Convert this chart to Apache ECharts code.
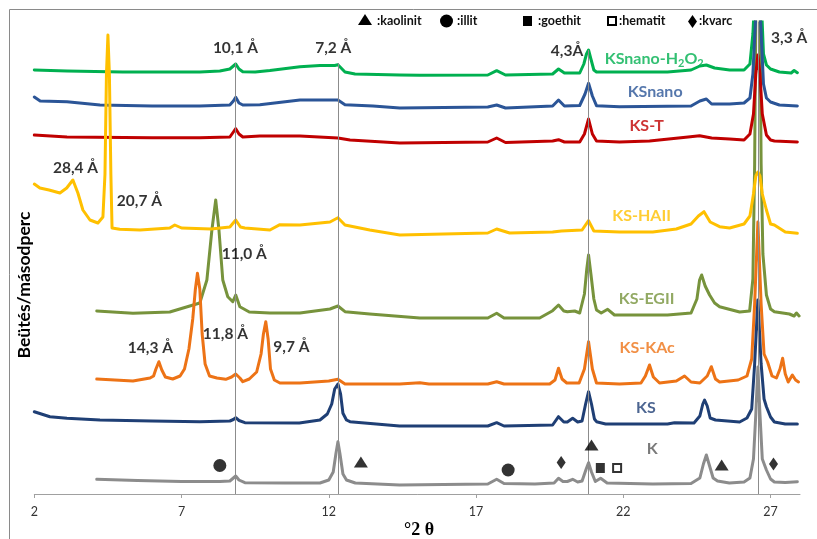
<!DOCTYPE html>
<html><head><meta charset="utf-8">
<script src="https://cdn.jsdelivr.net/npm/echarts@6/dist/echarts.min.js"></script>
<style>html,body{margin:0;padding:0;background:#fff}#c{width:817px;height:539px}</style>
</head><body><div id="c"></div>
<script>
// ---- data (x = °2θ, y = intensity in arbitrary stacked units) ----
const xTicks = [2, 7, 12, 17, 22, 27];

const K = [[4.12,14.7],[5.5,13.5],[7.0,12.5],[8.3,12.5],[8.64,13],[8.76,16],[8.84,18],[8.95,14],[9.15,11.3],[10.5,11],[11.7,11],[12.0,14],[12.15,22],[12.24,40],[12.31,52.3],[12.38,40],[12.48,20],[12.6,14],[12.9,11],[14.4,9],[17.4,10],[17.7,14.7],[17.95,10.5],[19.0,10],[19.65,11],[19.8,15.7],[19.95,12.5],[20.1,12.5],[20.28,14.7],[20.45,12],[20.6,13],[20.74,25],[20.82,31.3],[20.92,22],[21.05,12.5],[21.23,15.7],[21.45,11],[23.0,10],[24.3,10.5],[24.6,16],[24.72,30],[24.82,39],[24.93,28],[25.05,16],[25.2,13],[25.6,11],[26.1,12],[26.3,16],[26.42,35],[26.5,80],[26.57,127],[26.64,80],[26.72,35],[26.86,24],[27.0,15],[27.13,12],[27.5,11.5],[27.91,12.3]];

const KS = [[2.0,82.3],[2.53,77.3],[3.11,75.7],[4.23,74],[6.0,73],[7.62,72.3],[8.64,73],[8.76,74.5],[8.84,76.3],[8.95,73.5],[9.15,71.3],[11.0,71],[11.7,74],[11.95,80],[12.1,90],[12.2,105],[12.31,110],[12.4,100],[12.48,80.7],[12.6,74],[12.72,72.3],[14.4,68],[17.4,68],[17.7,71.3],[17.95,68],[19.6,69],[19.8,77.3],[19.98,72],[20.1,72],[20.28,75.7],[20.45,72],[20.6,73],[20.72,90],[20.82,102.3],[20.92,90],[21.02,75],[21.09,72.3],[21.4,70],[23.5,70],[23.74,71.3],[24.4,71],[24.6,78],[24.7,90],[24.76,94],[24.85,88],[24.95,76],[25.13,74],[25.95,72],[26.2,76],[26.36,85],[26.46,130],[26.57,194],[26.68,130],[26.78,95],[26.86,87.3],[27.0,77],[27.13,72],[27.5,70],[27.91,70]];

const KS_KAc = [[4.12,115],[5.35,113],[5.93,116],[6.05,118],[6.13,125],[6.23,132.3],[6.33,124],[6.45,117],[6.7,115],[6.95,118],[7.1,125],[7.25,145],[7.38,175],[7.47,205],[7.54,220.7],[7.62,205],[7.7,160],[7.8,130],[7.95,118],[8.2,116],[8.5,114.7],[8.7,117],[8.84,120],[8.98,116],[9.08,112.3],[9.3,115],[9.55,122],[9.7,140],[9.78,160],[9.86,172.3],[9.94,155],[10.02,125],[10.15,114],[10.34,111],[11.02,111],[12.0,113],[12.31,114.7],[12.55,110],[14.41,110],[15.09,111.3],[15.4,110],[17.4,110],[17.7,112.3],[17.95,110],[19.5,110],[19.68,114],[19.8,125.7],[19.92,115],[20.08,111],[20.5,111],[20.68,125],[20.82,152.3],[20.95,125],[21.09,111],[21.87,110],[22.6,111],[22.75,118],[22.89,129],[23.02,117],[23.23,111],[23.8,113],[24.08,118],[24.3,112],[24.6,111],[24.85,118],[24.99,127.3],[25.13,115],[25.27,112],[25.9,114],[26.2,118],[26.36,135],[26.46,190],[26.57,272],[26.68,190],[26.78,140],[26.9,132],[27.05,118],[27.2,116],[27.32,125],[27.41,135.7],[27.5,120],[27.6,112],[27.74,119],[27.85,114],[27.95,112]];

const KS_EGII = [[4.12,183],[5.35,180.7],[6.6,182],[7.62,191],[7.86,214],[8.03,264],[8.16,294],[8.27,264],[8.4,214],[8.57,197.3],[8.74,192.3],[8.84,199],[8.98,187.3],[9.3,182],[10.0,181],[11.02,181],[12.04,185],[12.31,188],[12.55,182.3],[13.39,180],[15.09,176],[17.4,176],[17.7,180.7],[17.95,176],[19.16,176],[19.6,183.3],[19.8,189],[19.98,183],[20.1,182.3],[20.35,183],[20.52,181],[20.68,200],[20.76,225],[20.82,239],[20.9,220],[21.0,195],[21.09,184],[21.25,181],[21.47,184.7],[21.7,179],[23.5,179],[24.3,181],[24.5,195],[24.59,214],[24.66,219],[24.78,208],[24.93,199],[25.1,191],[25.27,187.3],[25.95,182],[26.29,183],[26.4,215],[26.46,330],[26.5,480],[26.57,520],[26.64,480],[26.68,330],[26.74,240],[26.86,199],[27.0,185],[27.13,182.3],[27.64,180],[27.8,178],[27.88,181],[27.97,178]];

const KS_HAII = [[2.0,310],[2.19,306],[2.5,304],[2.87,301],[3.1,306],[3.31,314],[3.48,301],[3.65,284],[3.89,274],[4.16,271],[4.33,277],[4.4,320],[4.45,420],[4.5,459],[4.55,420],[4.6,320],[4.64,266],[4.9,264.7],[5.59,264],[6.6,266],[6.77,269],[7.0,266],[8.0,265],[8.64,267],[8.84,274],[9.0,267],[9.15,266],[10.0,264],[10.34,269.3],[11.02,269],[12.04,272],[12.31,276.3],[12.55,269],[13.39,264],[14.41,259],[17.4,261],[17.7,265],[18.14,261],[19.6,262],[19.9,263],[20.6,264],[20.82,273.3],[21.0,263],[21.87,262],[23.0,262],[23.8,265],[24.3,270],[24.55,278],[24.74,282.3],[24.95,272],[25.27,267.3],[25.61,266],[26.1,270],[26.3,278],[26.42,300],[26.5,318],[26.57,322],[26.64,318],[26.72,300],[26.86,284],[27.0,270],[27.13,269],[27.5,262],[27.91,260.7]];

const KS_T = [[2.0,359],[3.11,357],[6.0,356.3],[7.62,356.3],[8.64,357],[8.76,362],[8.84,365.3],[8.95,360],[9.08,357],[9.66,358],[11.02,358],[12.31,356],[12.72,354],[14.41,351],[17.4,352],[17.7,356],[18.0,351.5],[19.6,353],[19.8,354.3],[20.0,352],[20.52,352],[20.68,360],[20.82,375],[20.95,360],[21.09,353],[21.87,352],[22.89,353],[24.2,357],[24.59,358.3],[25.0,356],[25.61,355],[26.1,354],[26.3,360],[26.42,380],[26.5,420],[26.57,439],[26.64,420],[26.72,380],[26.86,359],[27.0,354],[27.13,353],[27.91,352]];

const KSnano = [[2.0,397],[2.2,393],[3.11,392.3],[4.23,389],[6.0,388],[7.62,388],[8.64,389],[8.76,393],[8.84,396.7],[8.95,391],[9.08,389],[9.66,389.3],[11.02,394],[12.31,394],[12.55,389.3],[13.5,388],[14.41,386],[17.4,387],[17.7,389],[18.0,386],[19.6,388],[19.8,394],[20.0,388],[20.52,388.5],[20.7,400],[20.82,410.7],[20.95,398],[21.09,388.3],[21.87,387.3],[24.3,388],[24.6,393],[24.82,395],[25.0,390],[25.61,390],[26.1,391],[26.3,396],[26.4,420],[26.5,480],[26.57,500],[26.65,480],[26.76,410],[26.86,396],[27.0,392],[27.3,389],[27.91,388]];

const KSnano_H2O2 = [[2.0,424],[3.11,423],[5.0,422],[7.62,422],[8.3,423],[8.64,425],[8.76,428],[8.84,430],[8.95,425],[9.08,422.3],[9.5,422],[10.0,423.5],[11.02,427.3],[11.7,428.5],[12.2,428.5],[12.31,429.3],[12.55,422],[12.89,420],[14.41,419],[15.09,418.7],[17.4,419],[17.7,423.3],[18.0,419],[19.6,420],[19.8,425],[20.0,421],[20.52,421],[20.66,430],[20.75,440],[20.82,444],[20.9,435],[21.0,424],[21.09,422],[21.87,422],[23.5,422],[24.3,424],[24.6,428],[24.82,429],[25.1,426],[25.61,424],[26.1,424],[26.3,430],[26.4,460],[26.5,520],[26.57,530],[26.65,520],[26.76,440],[26.86,429],[27.0,425],[27.3,422],[27.7,421],[27.8,423.5],[27.91,421.3]];

// reference lines (d-spacings)
const refX = [8.84, 12.32, 20.82, 26.59];
const refTop = [431, 431, 444, 472];

// peak annotations
const annotText = ['10,1 Å', '7,2 Å', '4,3Å', '3,3 Å', '28,4 Å', '20,7 Å', '11,0 Å', '14,3 Å', '11,8 Å', '9,7 Å'];
const annotX = [8.83, 12.15, 20.09, 27.63, 3.40, 5.57, 9.13, 5.94, 8.49, 10.73];
const annotY = [446.5, 446.5, 443, 456, 326.5, 293, 240.5, 146, 160.5, 147];

// series name labels
const nameText = ['KSnano-H2O2', 'KSnano', 'KS-T', 'KS-HAII', 'KS-EGII', 'KS-KAc', 'KS', 'K'];
const nameX = [23.05, 23.08, 22.79, 22.62, 22.79, 22.81, 22.77, 22.98];
const nameY = [435, 402.5, 368, 278, 195, 146.5, 86.5, 45.5];

// mineral markers
const mkKaolinit = [[13.09, 32], [20.92, 49], [25.34, 29]];
const mkIllit = [[8.30, 28.5], [18.09, 24]];
const mkGoethit = [[21.22, 26]];
const mkHematit = [[21.79, 26]];
const mkKvarc = [[19.89, 31.5], [27.10, 30]];

// ---- chart ----
const colors = {
  'KSnano-H2O2': '#00B050', 'KSnano': '#2B5597', 'KS-T': '#C00000', 'KS-HAII': '#FFC000',
  'KS-EGII': '#77933C', 'KS-KAc': '#ED7316', 'KS': '#1F3F75', 'K': '#8C8C8C'
};
const labelColors = Object.assign({}, colors, {'K': '#595959'});
const seriesData = [
  ['KS-EGII', KS_EGII], ['KSnano-H2O2', KSnano_H2O2], ['KSnano', KSnano], ['KS-T', KS_T],
  ['KS-HAII', KS_HAII], ['KS-KAc', KS_KAc], ['KS', KS], ['K', K]
];
const FONT = 'Lato';
const chart = echarts.init(document.getElementById('c'), null, {renderer: 'canvas'});

const series = seriesData.map(([name, d]) => ({
  name, type: 'line', data: d, showSymbol: false, smooth: false,
  lineStyle: {color: colors[name], width: 3, join: 'round', cap: 'round'}, itemStyle: {color: colors[name]},
  clip: true, silent: true, animation: false, z: 3
}));

series.unshift({
  type: 'line', data: [], silent: true, animation: false, z: 2,
  markLine: {
    symbol: 'none', silent: true, animation: false, label: {show: false},
    lineStyle: {color: '#8c8c8c', width: 1, type: 'solid'},
    data: refX.map((x, i) => [{coord: [x, 0]}, {coord: [x, refTop[i]]}])
  }
});

series.push({
  type: 'scatter', symbolSize: 0, silent: true, animation: false, clip: false, z: 5,
  data: annotText.map((t, i) => ({value: [annotX[i], annotY[i]], label: {formatter: t}})),
  label: {show: true, position: 'inside', color: '#000', fontFamily: FONT, fontWeight: 'bold', fontSize: 15.5}
});

series.push({
  type: 'scatter', symbolSize: 0, silent: true, animation: false, clip: false, z: 5,
  data: nameText.map((t, i) => ({
    value: [nameX[i], nameY[i]],
    label: {
      formatter: t === 'KSnano-H2O2' ? '{a|KSnano-H}{s|2}{a|O}{s|2}' : '{a|' + t + '}',
      color: labelColors[t],
      rich: {
        a: {color: labelColors[t], fontFamily: FONT, fontWeight: 'bold', fontSize: 16, lineHeight: 20},
        s: {color: labelColors[t], fontFamily: FONT, fontWeight: 'bold', fontSize: 11, lineHeight: 20, padding: [9, 0, 0, 0]}
      }
    }
  })),
  label: {show: true, position: 'inside'}
});

function mk(data, symbol, size, fill, border) {
  return {
    type: 'scatter', data, symbol, symbolSize: size, silent: true, animation: false, clip: false, z: 6,
    itemStyle: {color: fill, borderColor: border || fill, borderWidth: border ? 2 : 0}
  };
}
series.push(mk(mkKaolinit, 'triangle', [14, 11], '#000'));
series.push(mk(mkIllit, 'circle', 13, '#000'));
series.push(mk(mkGoethit, 'rect', [9, 10], '#000'));
series.push(mk(mkHematit, 'rect', [8, 8], '#fff', '#000'));
series.push(mk(mkKvarc, 'diamond', [9, 13], '#000'));

const legTextStyle = {fill: '#111', font: 'bold 12.5px ' + FONT, textVerticalAlign: 'middle'};
chart.setOption({
  animation: false,
  backgroundColor: '#fff',
  grid: {left: 34.3, right: 17, top: 22, bottom: 45, containLabel: false},
  xAxis: {
    type: 'value', min: 2, max: 28, interval: 5,
    axisLine: {show: true, lineStyle: {color: '#a0a0a0', width: 1}},
    axisTick: {show: true, length: 4, customValues: xTicks, lineStyle: {color: '#a0a0a0'}},
    axisLabel: {customValues: xTicks, color: '#333', fontFamily: FONT, fontSize: 12.5, margin: 11},
    splitLine: {show: false}
  },
  yAxis: {type: 'value', min: 0, max: 472, show: false},
  series,
  graphic: [
    {type: 'rect', shape: {x: 9.5, y: 9.5, width: 900, height: 700}, style: {fill: 'none', stroke: '#8a8a8a', lineWidth: 1}, silent: true},
    {type: 'text', x: 24, y: 285, rotation: Math.PI / 2, style: {text: 'Beütés/másodperc', fill: '#000', font: 'bold 17.5px ' + FONT, textAlign: 'center', textVerticalAlign: 'middle'}},
    {type: 'text', x: 419, y: 530, style: {text: '°2 θ', fill: '#000', font: 'bold 18px "Liberation Serif"', textAlign: 'center', textVerticalAlign: 'middle'}},
    {type: 'polygon', shape: {points: [[365, 14], [372, 25], [358, 25]]}, style: {fill: '#000'}},
    {type: 'text', x: 377, y: 21, style: Object.assign({text: ':kaolinit'}, legTextStyle)},
    {type: 'circle', shape: {cx: 446.5, cy: 21, r: 6.5}, style: {fill: '#000'}},
    {type: 'text', x: 457, y: 21, style: Object.assign({text: ':illit'}, legTextStyle)},
    {type: 'rect', shape: {x: 523, y: 16, width: 9, height: 10}, style: {fill: '#000'}},
    {type: 'text', x: 538, y: 21, style: Object.assign({text: ':goethit'}, legTextStyle)},
    {type: 'rect', shape: {x: 608, y: 17, width: 8, height: 8}, style: {fill: '#fff', stroke: '#000', lineWidth: 2}},
    {type: 'text', x: 619, y: 21, style: Object.assign({text: ':hematit'}, legTextStyle)},
    {type: 'polygon', shape: {points: [[692.5, 15], [697, 21.5], [692.5, 28], [688, 21.5]]}, style: {fill: '#000'}},
    {type: 'text', x: 699, y: 21, style: Object.assign({text: ':kvarc'}, legTextStyle)}
  ]
});
</script></body></html>
